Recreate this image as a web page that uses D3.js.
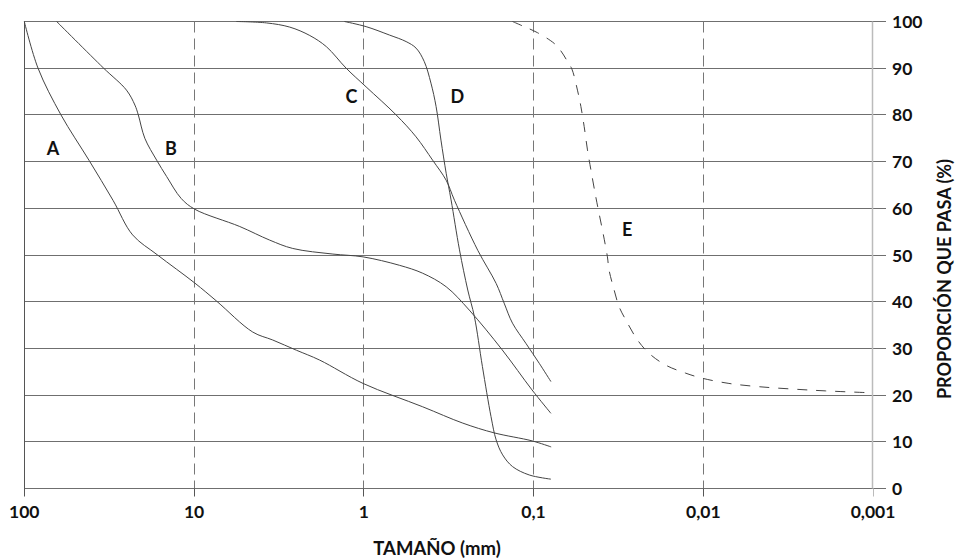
<!DOCTYPE html>
<html><head><meta charset="utf-8">
<script src="https://cdn.jsdelivr.net/npm/d3@7"></script>
<style>
body{margin:0;background:#fff;}
text{font-family:Lato,"Open Sans",sans-serif;font-weight:700;fill:#111;}
</style></head>
<body><svg id="c" width="961" height="559"></svg>
<script>
// tick values (mm) and labels
const xTicks = [100, 10, 1, 0.1, 0.01, 0.001];
const xTickLabels = ["100", "10", "1", "0,1", "0,01", "0,001"];
const yTicks = [0, 10, 20, 30, 40, 50, 60, 70, 80, 90, 100];

// curve A: size (mm), passing %
const sizeA = [100, 83, 60.8, 41.6, 30, 23, 16.4, 9.9, 7.35, 4.51, 3.44, 2.49, 1.82, 1.01, 0.45, 0.261, 0.17, 0.102, 0.0787];
const passA = [100, 90, 80, 70.3, 61.7, 54.3, 50, 44, 40.1, 33.5, 31.8, 29.6, 27.5, 22.5, 17.5, 14, 11.9, 10.2, 8.9];
// curve B
const sizeB = [64.5, 34.3, 25, 22.3, 21.3, 19.5, 16.6, 14.5, 11.9, 9.9, 5.38, 3.59, 2.62, 1.52, 1.01, 0.617, 0.45, 0.327, 0.239, 0.153, 0.102, 0.079];
const passB = [100, 90.1, 85.3, 82.1, 80, 75, 70.3, 66.8, 62.1, 59.8, 56.1, 53.2, 51.4, 50.2, 49.6, 47.8, 46.1, 43.2, 38.2, 29.7, 21.1, 16.1];
// curve C
const sizeC = [5.63, 3.75, 2.73, 2.08, 1.66, 1.27, 0.969, 0.645, 0.492, 0.393, 0.327, 0.292, 0.213, 0.166, 0.149, 0.133, 0.111, 0.0925, 0.079];
const passC = [100, 99.7, 98.8, 97, 94.6, 90, 86, 80, 75.3, 70.3, 66, 61.7, 51, 43.9, 39.7, 35.4, 31.1, 26.8, 22.9];
// curve D
const sizeD = [1.3, 0.969, 0.706, 0.563, 0.492, 0.44, 0.402, 0.375, 0.351, 0.327, 0.306, 0.273, 0.244, 0.223, 0.2, 0.178, 0.166, 0.152, 0.133, 0.106, 0.079];
const passD = [100, 98.9, 97.1, 95.7, 94.3, 91.4, 86.8, 81.8, 74.6, 67.5, 61.8, 51.1, 42.5, 36.8, 26.1, 15.4, 10.4, 7.2, 4.7, 2.9, 2.0];
// curve E (dashed)
const sizeE = [0.133, 0.1135, 0.0947, 0.0755, 0.069, 0.063, 0.0594, 0.0551, 0.0526, 0.0503, 0.0481, 0.0459, 0.043, 0.0411, 0.0389, 0.0367, 0.0359, 0.0335, 0.0313, 0.0286, 0.0244, 0.0208, 0.0166, 0.0127, 0.0101, 0.00706, 0.0047, 0.00299, 0.0019, 0.00103];
const passE = [100, 98.9, 97.6, 95.3, 93.7, 91.4, 89.8, 85.3, 81.8, 77.5, 72.5, 68.2, 62.5, 58.9, 54.6, 49.6, 46.8, 42.5, 38.9, 36.1, 31.8, 28.9, 26.4, 24.7, 23.6, 22.5, 21.8, 21.3, 20.9, 20.5];

const curveNames = ["A", "B", "C", "D", "E"];
const labelSize = [67.8, 13.7, 1.18, 0.281, 0.0281];
const labelPass = [73, 73, 84, 84, 55.5];

const svg = d3.select("#c");
const x = d3.scaleLog().domain([100, 0.001]).range([24.3, 873]);
const y = d3.scaleLinear().domain([0, 100]).range([488.5, 21.5]);
const px = v => Math.round(v) + 0.5;

// horizontal grid
svg.append("g").selectAll("line").data(yTicks).join("line")
  .attr("x1", 24).attr("x2", 886)
  .attr("y1", d => px(y(d) - 0.5)).attr("y2", d => px(y(d) - 0.5))
  .attr("stroke", "#6f6f6f").attr("stroke-width", 1);

// vertical dashed grid
const inner = xTicks.slice(1, -1);
svg.append("g").selectAll("line").data(inner).join("line")
  .attr("x1", d => px(x(d) - 0.5)).attr("x2", d => px(x(d) - 0.5))
  .attr("y1", y(100)).attr("y2", y(0))
  .attr("stroke", "#777").attr("stroke-width", 1).attr("stroke-dasharray", "11,6");
// bottom ticks
svg.append("g").selectAll("line").data(xTicks).join("line")
  .attr("x1", d => px(x(d) - 0.5)).attr("x2", d => px(x(d) - 0.5))
  .attr("y1", y(0)).attr("y2", y(0) + 8)
  .attr("stroke", (d, i) => i === xTicks.length - 1 ? "#bbb" : "#555").attr("stroke-width", 1);
// left axis
svg.append("line").attr("x1", px(x(100) - 0.5)).attr("x2", px(x(100) - 0.5))
  .attr("y1", y(100)).attr("y2", y(0)).attr("stroke", "#555");
// right axis (light)
svg.append("line").attr("x1", px(x(0.001) - 1.5)).attr("x2", px(x(0.001) - 1.5))
  .attr("y1", y(100)).attr("y2", y(0)).attr("stroke", "#bbb").attr("stroke-width", 1.5);

// curves
const line = d3.line().x(d => x(d[0])).y(d => y(d[1])).curve(d3.curveCatmullRom.alpha(0.5));
const series = [[sizeA, passA], [sizeB, passB], [sizeC, passC], [sizeD, passD], [sizeE, passE]];
series.forEach((s, i) => {
  const pts = s[0].map((v, j) => [v, s[1][j]]);
  svg.append("path").datum(pts).attr("d", line)
    .attr("fill", "none").attr("stroke", "#444").attr("stroke-width", 1)
    .attr("stroke-dasharray", i === 4 ? "10,9" : null);
});

// curve labels
svg.append("g").selectAll("text").data(curveNames).join("text")
  .attr("x", (d, i) => x(labelSize[i])).attr("y", (d, i) => y(labelPass[i]))
  .attr("text-anchor", "middle").attr("dominant-baseline", "central")
  .attr("font-size", 18).text(d => d);

// x tick labels
svg.append("g").selectAll("text").data(xTicks).join("text")
  .attr("x", d => x(d)).attr("y", 518)
  .attr("text-anchor", "middle").attr("font-size", 17.5)
  .text((d, i) => xTickLabels[i]);

// y tick labels
svg.append("g").selectAll("text").data(yTicks).join("text")
  .attr("x", 892).attr("y", d => y(d))
  .attr("dominant-baseline", "central").attr("font-size", 17.5)
  .text(d => d);

// axis titles
svg.append("text").attr("x", 437).attr("y", 555).attr("text-anchor", "middle")
  .attr("font-size", 18.5).text("TAMAÑO (mm)");
svg.append("text").attr("transform", "translate(951,279) rotate(-90)")
  .attr("text-anchor", "middle").attr("font-size", 18).text("PROPORCIÓN QUE PASA (%)");
</script></body></html>
